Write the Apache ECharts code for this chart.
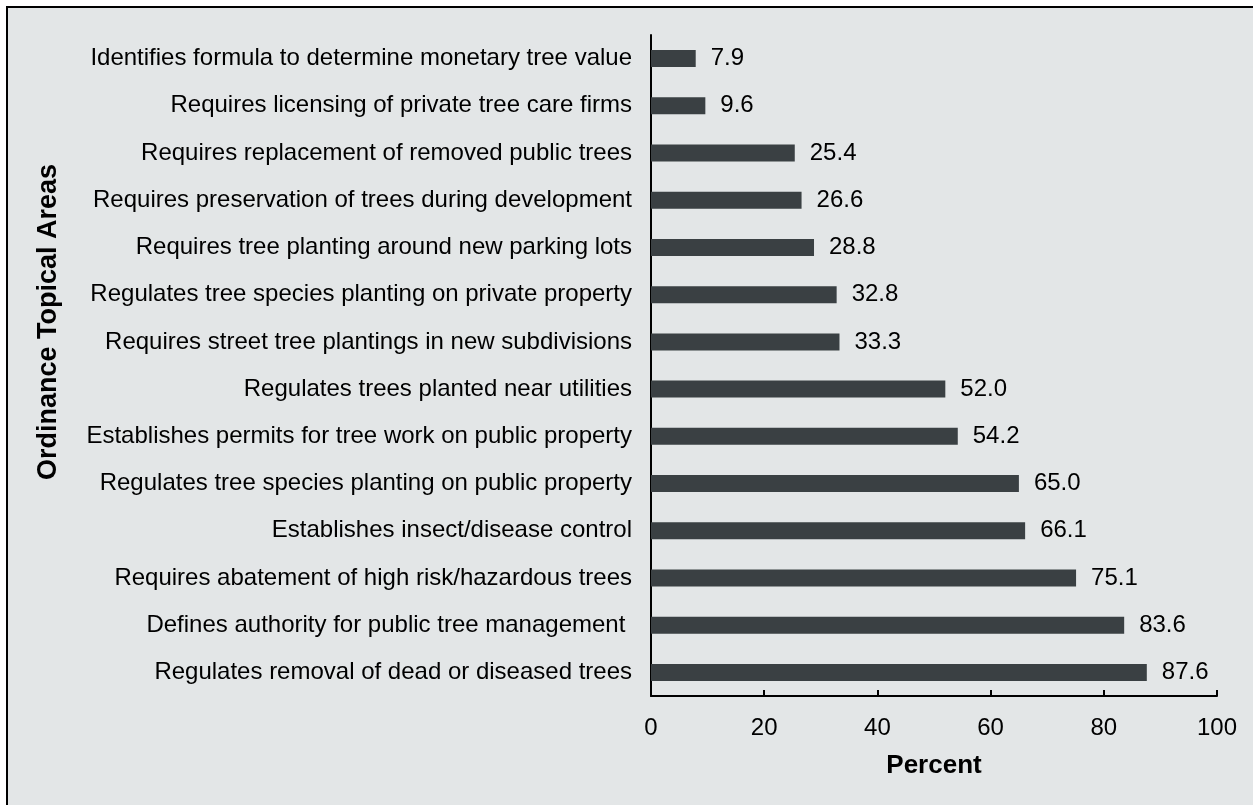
<!DOCTYPE html>
<html>
<head>
<meta charset="utf-8">
<script src="https://cdn.jsdelivr.net/npm/echarts@6/dist/echarts.min.js"></script>
<style>
  html, body { margin: 0; padding: 0; background: #fff; overflow: hidden; }
  #frame {
    position: absolute; left: 6px; top: 6px;
    width: 1247px; height: 799px;
    border-left: 2px solid #000; border-top: 2px solid #000;
    background: #e3e6e7;
  }
  #chart { width: 1247px; height: 799px; }
</style>
</head>
<body>
<div id="frame"><div id="chart"></div></div>
<script>
// ordinance topics, top to bottom as in the figure
const topics = [
  'Identifies formula to determine monetary tree value',
  'Requires licensing of private tree care firms',
  'Requires replacement of removed public trees',
  'Requires preservation of trees during development',
  'Requires tree planting around new parking lots',
  'Regulates tree species planting on private property',
  'Requires street tree plantings in new subdivisions',
  'Regulates trees planted near utilities',
  'Establishes permits for tree work on public property',
  'Regulates tree species planting on public property',
  'Establishes insect/disease control',
  'Requires abatement of high risk/hazardous trees',
  'Defines authority for public tree management ',
  'Regulates removal of dead or diseased trees'
];
const percent = [7.9, 9.6, 25.4, 26.6, 28.8, 32.8, 33.3, 52.0, 54.2, 65.0, 66.1, 75.1, 83.6, 87.6];

const chart = echarts.init(document.getElementById('chart'));
const font = 'Liberation Sans, Arial, sans-serif';
chart.setOption({
  animation: false,
  grid: { left: 643, right: 38, top: 27, bottom: 111, containLabel: false },
  graphic: [{
    type: 'text', x: 41, y: 314, rotation: Math.PI / 2,
    style: {
      text: 'Ordinance Topical Areas', fontFamily: font, fontSize: 27, fontWeight: 'bold',
      fill: '#000', align: 'center', verticalAlign: 'middle'
    }
  }],
  xAxis: {
    type: 'value', min: 0, max: 100, interval: 20,
    name: 'Percent', nameLocation: 'middle', nameGap: 57,
    nameTextStyle: { fontFamily: font, fontSize: 26, fontWeight: 'bold', color: '#000' },
    axisLine: { show: true, lineStyle: { color: '#000', width: 2 } },
    axisTick: { show: true, inside: true, length: 6, lineStyle: { color: '#000', width: 2 } },
    axisLabel: { fontFamily: font, fontSize: 24, color: '#000', margin: 20 },
    splitLine: { show: false }
  },
  yAxis: {
    type: 'category', data: topics, inverse: true,
    axisLine: { show: true, lineStyle: { color: '#000', width: 2 } },
    axisTick: { show: false },
    axisLabel: { fontFamily: font, fontSize: 24, color: '#000', margin: 19 }
  },
  series: [{
    type: 'bar', data: percent, barCategoryGap: '64%',
    itemStyle: { color: '#3a4043' },
    label: {
      show: true, position: 'right', distance: 15,
      fontFamily: font, fontSize: 24, color: '#000',
      formatter: p => p.value.toFixed(1)
    }
  }]
});
</script>
</body>
</html>
